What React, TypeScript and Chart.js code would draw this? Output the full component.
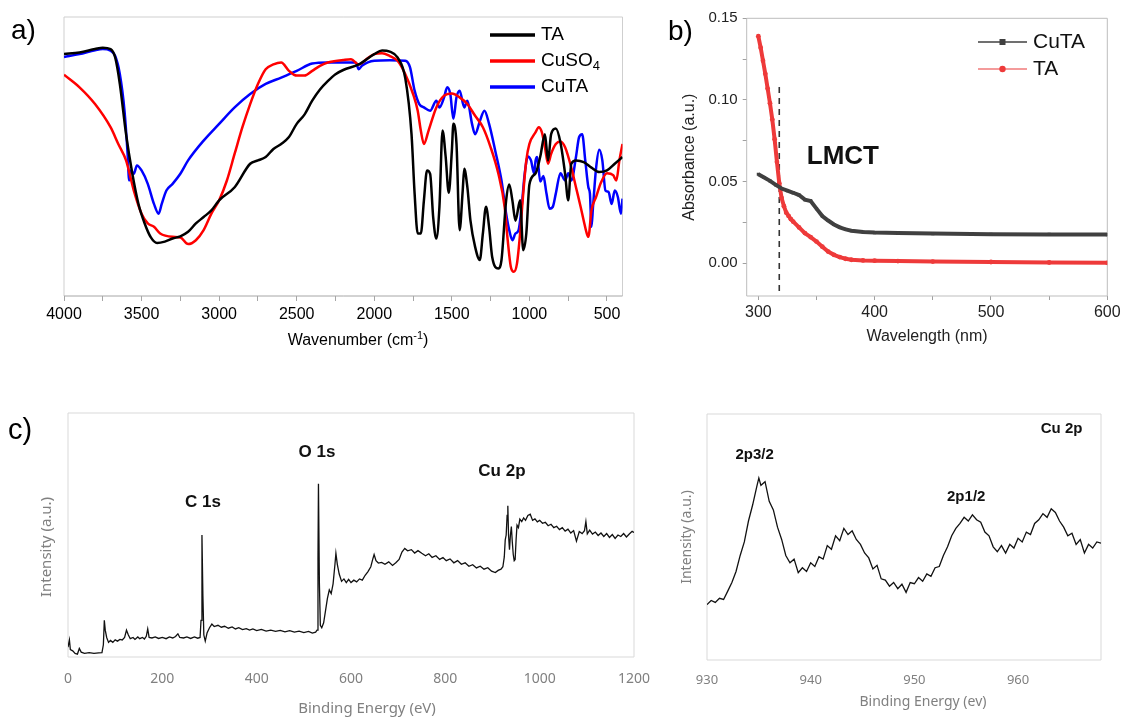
import React, { useEffect, useRef } from 'react';
import { Chart, registerables } from 'chart.js';
Chart.register(...registerables);

// ---------- a) FTIR ----------
const taWn = [4000, 3900, 3800, 3750, 3700, 3670, 3640, 3600, 3560, 3520, 3480, 3440, 3400, 3350, 3300, 3250, 3200, 3150, 3100, 3050, 3000, 2900, 2800, 2750, 2700, 2650, 2600, 2550, 2500, 2450, 2400, 2350, 2300, 2250, 2200, 2100, 2000, 1950, 1900, 1850, 1800, 1760, 1740, 1720, 1700, 1680, 1660, 1640, 1620, 1600, 1580, 1560, 1540, 1520, 1500, 1490, 1470, 1450, 1430, 1420, 1400, 1380, 1350, 1320, 1300, 1280, 1260, 1240, 1200, 1180, 1150, 1130, 1110, 1090, 1060, 1040, 1020, 1000, 960, 930, 900, 880, 860, 830, 800, 770, 750, 730, 700, 650, 600, 550, 500, 450, 400];
const taT = [86.7, 87.3, 88.5, 89, 88.5, 85.5, 76, 58, 44, 33, 26, 21, 19, 19.5, 20.6, 21.4, 23, 26, 28.3, 30.7, 34.3, 39, 47.4, 48.6, 49.8, 52.7, 54.5, 57, 61.7, 65, 70, 74, 77, 79.5, 81, 83, 86.7, 88, 87.6, 85.5, 78, 58, 36.7, 22.4, 22.4, 34.3, 45, 43.8, 28, 20.6, 32, 59.3, 50, 37, 52, 61.7, 54.5, 23.6, 37.8, 45.6, 39, 27, 17.6, 12.9, 22.4, 32, 24.8, 14, 9.9, 12.9, 34.3, 40, 34.3, 27, 34.3, 16.4, 22.4, 40, 44, 50, 58, 48.6, 58, 60, 55, 43.8, 34.3, 47.4, 48.6, 48, 46, 44.4, 45, 47.4, 49.8];

const cuso4Wn = [4000, 3900, 3800, 3700, 3650, 3600, 3550, 3500, 3460, 3420, 3380, 3300, 3250, 3200, 3150, 3100, 3050, 3000, 2950, 2900, 2850, 2800, 2750, 2700, 2650, 2600, 2550, 2500, 2450, 2400, 2350, 2300, 2200, 2150, 2100, 2050, 2000, 1950, 1900, 1850, 1800, 1750, 1720, 1700, 1680, 1650, 1600, 1550, 1500, 1450, 1400, 1350, 1300, 1250, 1200, 1160, 1140, 1120, 1100, 1080, 1060, 1040, 1020, 1000, 960, 940, 920, 900, 880, 860, 830, 800, 770, 730, 700, 670, 650, 630, 620, 600, 570, 540, 500, 460, 440, 420, 400];
const cuso4T = [79.3, 74.8, 68.8, 60.5, 54.5, 48.6, 37.8, 29.5, 26, 24.8, 22.4, 21.2, 21, 18.6, 20, 23.6, 29.5, 34.3, 41.4, 51, 60.5, 68.8, 76, 81.3, 83, 83.7, 80.7, 79, 79, 80.7, 82.5, 83.7, 84.6, 84.9, 83, 84.9, 86.7, 87, 86, 84.3, 79.5, 72.4, 66.4, 59.3, 54.5, 59.3, 67.6, 71.8, 72.6, 71.2, 68.8, 64.6, 60.5, 53.3, 43.8, 32, 20, 10.5, 8.7, 11.7, 22.4, 36.7, 48.6, 54.5, 58.7, 60.5, 58.7, 53.3, 47.4, 51, 54.5, 55.4, 53.3, 46, 39, 32, 27, 22.4, 21.2, 30.7, 35.5, 40.5, 44, 43.3, 41.4, 48.6, 54.5];

const cutaWn = [4000, 3900, 3800, 3750, 3700, 3670, 3640, 3610, 3590, 3580, 3570, 3550, 3530, 3500, 3460, 3420, 3390, 3370, 3340, 3300, 3250, 3200, 3100, 3000, 2900, 2800, 2700, 2600, 2500, 2400, 2300, 2200, 2120, 2100, 2080, 2000, 1900, 1800, 1770, 1740, 1710, 1680, 1640, 1600, 1580, 1550, 1530, 1510, 1490, 1470, 1450, 1420, 1400, 1370, 1350, 1320, 1290, 1260, 1220, 1180, 1150, 1130, 1110, 1090, 1070, 1050, 1030, 1010, 990, 970, 960, 950, 930, 910, 890, 870, 850, 830, 800, 770, 750, 730, 700, 680, 660, 640, 620, 610, 600, 590, 570, 550, 530, 510, 490, 470, 450, 430, 410, 400];
const cutaT = [85.7, 86.7, 88.1, 88.5, 87.9, 86, 79.5, 66.4, 51, 41.4, 45, 43.8, 46.8, 45, 40.2, 33, 29.5, 33, 37.8, 40.2, 43.8, 48.6, 55.7, 61.7, 67.6, 72.4, 76, 78.3, 80.7, 83.3, 83.7, 83.7, 83.7, 81.3, 82.5, 84.3, 84.5, 84.3, 82, 73.6, 68.8, 67.6, 66.4, 70, 67.6, 71.2, 74.8, 72.4, 63.5, 71.2, 73.6, 67.6, 70, 61.7, 58, 62.6, 66.4, 61.7, 52, 41.4, 29.5, 23.6, 20, 22.4, 23.6, 32, 44, 50, 48.6, 44, 48.6, 49.8, 41, 43, 36.7, 31.3, 31.9, 36.7, 44, 41.4, 44, 41.4, 49.8, 56.9, 58, 48.6, 39, 36.7, 24.8, 32, 46, 52.4, 48.6, 37.8, 37.3, 33, 37.8, 35.5, 29.5, 34.9];

// ---------- b) UV-vis ----------
const uvCuTAnm = [300, 305, 310, 315, 320, 325, 330, 335, 340, 345, 350, 355, 360, 365, 370, 375, 380, 390, 400, 420, 450, 500, 550, 600];
const uvCuTAabs = [0.0545, 0.0525, 0.0505, 0.048, 0.0458, 0.0445, 0.0432, 0.0418, 0.039, 0.0382, 0.0335, 0.029, 0.0262, 0.0238, 0.022, 0.0208, 0.02, 0.0192, 0.0188, 0.0185, 0.0182, 0.0178, 0.0177, 0.0176];
const uvTAnm = [300, 302, 304, 306, 308, 310, 312, 314, 316, 318, 320, 322, 324, 326, 328, 330, 335, 340, 345, 350, 355, 360, 365, 370, 375, 380, 390, 400, 420, 450, 500, 550, 600];
const uvTAabs = [0.139, 0.132, 0.124, 0.116, 0.107, 0.098, 0.088, 0.076, 0.062, 0.049, 0.04, 0.035, 0.031, 0.029, 0.027, 0.0255, 0.022, 0.0185, 0.016, 0.0133, 0.0102, 0.0072, 0.0052, 0.0038, 0.0028, 0.0022, 0.0018, 0.0016, 0.0014, 0.0011, 0.0008, 0.0005, 0.0003];
const lmctNm = [318, 318];
const lmctAbs = [0.108, -0.02];

// ---------- c) XPS survey ----------
const surveyE = [0, 3, 5, 10, 15, 20, 24, 28, 35, 45, 55, 65, 72, 75, 77, 79, 82, 86, 90, 95, 100, 105, 110, 115, 120, 124, 128, 132, 138, 142, 148, 152, 158, 162, 166, 169, 172, 178, 185, 192, 200, 208, 215, 222, 228, 233, 237, 245, 252, 260, 268, 275, 280, 282, 284, 286, 288, 291, 295, 300, 305, 310, 318, 325, 332, 340, 348, 355, 362, 370, 378, 385, 392, 400, 410, 420, 430, 440, 450, 460, 470, 480, 490, 500, 510, 518, 525, 528, 530, 531, 533, 535, 538, 542, 546, 550, 554, 558, 562, 566, 568, 571, 575, 580, 585, 590, 595, 600, 606, 612, 618, 624, 630, 636, 642, 646, 649, 653, 658, 665, 672, 680, 688, 695, 702, 708, 714, 720, 728, 735, 742, 750, 758, 765, 772, 780, 788, 795, 802, 810, 818, 826, 834, 842, 850, 858, 866, 874, 882, 890, 898, 906, 912, 918, 922, 925, 927, 929, 931, 932.5, 934, 936, 938, 940, 942, 944, 946, 948, 950, 952, 955, 958, 962, 966, 970, 975, 980, 985, 990, 995, 1000, 1006, 1012, 1018, 1024, 1030, 1036, 1042, 1048, 1054, 1060, 1066, 1072, 1078, 1084, 1090, 1095, 1098, 1101, 1106, 1112, 1118, 1124, 1130, 1136, 1142, 1148, 1154, 1160, 1166, 1172, 1178, 1184, 1190, 1196, 1200];
const surveyI = [4, 7, 3, 2.5, 1.5, 1.2, 3.5, 2, 1.5, 1.8, 1.5, 1.7, 1.8, 5, 15, 11, 8, 6, 6.8, 6, 7, 6.5, 7.2, 7, 8, 11, 9, 7.5, 8, 7.2, 8.2, 7.5, 8, 7.4, 8.5, 11.5, 8, 7.8, 8.2, 7.6, 8, 7.5, 8.2, 7.8, 8.4, 9.5, 8, 7.8, 8.2, 7.6, 8.2, 7.7, 8, 15, 50, 25, 9, 6.5, 10, 12, 13.5, 12.5, 13, 12.2, 12.6, 11.8, 12.3, 11.5, 12, 11.2, 11.6, 11, 11.5, 10.8, 11.3, 10.6, 11, 10.5, 10.9, 10.3, 10.8, 10.2, 10.6, 10, 10.5, 9.8, 10.2, 11, 40, 71, 30, 13, 12, 14, 19, 24, 27.5, 26, 30, 38, 42.5, 38, 34, 31, 32, 30.5, 31.8, 30.5, 31.5, 30.8, 32, 31.5, 33.5, 35, 37, 40, 42, 39.5, 38.5, 38.8, 38, 39, 37.5, 38.6, 40, 43, 44.5, 43.5, 44, 42.6, 43.6, 42.5, 41.5, 42.3, 40.8, 41.5, 40, 40.8, 39.5, 40.2, 38.6, 39.5, 38, 38.6, 37.2, 37.8, 36.5, 37.2, 36, 36.6, 35.2, 34.6, 35.5, 36, 37, 41, 48, 50, 58, 62, 50, 44, 50, 53.5, 47, 42, 39.5, 40, 48, 54, 53, 56.5, 55.5, 57, 56, 58, 58.5, 56, 56.6, 55.4, 56, 54.8, 55.2, 53.8, 54.4, 53, 53.6, 52.2, 53, 51.6, 52.4, 50.8, 51.8, 47.5, 51.4, 50.6, 51.8, 55.5, 50.5, 52, 50.4, 51.2, 49.8, 50.8, 49.4, 50.6, 49, 50.2, 48.6, 50, 49.4, 50.6, 49.2, 50.4, 51.5, 51];

// ---------- d) XPS Cu 2p ----------
const cu2pE = [930.0, 930.4, 930.8, 931.2, 931.6, 932.0, 932.4, 932.8, 933.2, 933.6, 934.0, 934.4, 934.8, 935.0, 935.2, 935.6, 936.0, 936.4, 936.8, 937.2, 937.6, 938.0, 938.4, 938.8, 939.2, 939.6, 940.0, 940.4, 940.8, 941.2, 941.6, 942.0, 942.4, 942.8, 943.2, 943.6, 944.0, 944.4, 944.8, 945.2, 945.6, 946.0, 946.4, 946.8, 947.2, 947.6, 948.0, 948.4, 948.8, 949.2, 949.6, 950.0, 950.4, 950.8, 951.2, 951.6, 952.0, 952.4, 952.8, 953.2, 953.6, 954.0, 954.4, 954.8, 955.2, 955.6, 956.0, 956.4, 956.8, 957.2, 957.6, 958.0, 958.4, 958.8, 959.2, 959.6, 960.0, 960.4, 960.8, 961.2, 961.6, 962.0, 962.4, 962.8, 963.2, 963.6, 964.0, 964.4, 964.8, 965.2, 965.6, 966.0, 966.4, 966.8, 967.2, 967.6, 968.0];
const cu2pI = [22.5, 24.2, 23.4, 25.1, 24.6, 28.0, 31.5, 36.0, 42.5, 48.0, 56.5, 63.0, 70.5, 74.0, 71.0, 72.5, 64.5, 61.0, 54.0, 49.0, 42.5, 39.5, 41.0, 35.5, 37.5, 36.0, 39.5, 38.0, 42.0, 41.0, 46.5, 45.0, 50.5, 48.5, 53.5, 51.0, 52.5, 49.0, 47.0, 43.5, 41.5, 37.0, 38.5, 33.0, 32.5, 30.0, 31.5, 29.0, 30.8, 27.5, 31.5, 31.0, 33.5, 32.0, 35.0, 34.0, 37.5, 38.0, 42.5, 46.0, 50.5, 53.5, 55.5, 58.0, 56.5, 59.0, 57.0, 56.0, 52.0, 50.5, 46.0, 44.0, 46.5, 43.5, 47.0, 45.5, 49.5, 48.0, 52.0, 51.0, 55.5, 57.0, 59.5, 58.0, 61.5, 60.0, 56.5, 54.0, 50.5, 51.5, 47.0, 49.0, 43.5, 47.0, 45.5, 48.0, 47.5];

// ---------- helpers ----------
const SANS = '"Liberation Sans", Arial, sans-serif';
const NOTO = '"Noto Sans", sans-serif';

type Part = { t: string; sup?: boolean; sub?: boolean };
type TextItem = {
  x?: number; y?: number; dx?: number; dy?: number;
  parts: Part[]; size: number; family: string; weight?: string;
  color?: string; rotate?: number; align?: 'center' | 'left';
};

const zip = (xs: number[], ys: number[]) => xs.map((x, i) => ({ x, y: ys[i] }));

function labelParts(label: string): Part[] {
  const m = label.match(/^(.*?[A-Za-z])(\d+)$/);
  return m ? [{ t: m[1] }, { t: m[2], sub: true }] : [{ t: label }];
}

function drawParts(ctx: CanvasRenderingContext2D, it: TextItem, x: number, y: number) {
  const fontFor = (p: Part) => `${it.weight || 'normal'} ${p.sup || p.sub ? it.size * 0.68 : it.size}px ${it.family}`;
  const widths = it.parts.map((p) => { ctx.font = fontFor(p); return ctx.measureText(p.t).width; });
  const total = widths.reduce((a, b) => a + b, 0);
  ctx.save();
  ctx.translate(x, y);
  if (it.rotate) ctx.rotate(it.rotate);
  ctx.fillStyle = it.color || '#000';
  ctx.textBaseline = 'middle';
  ctx.textAlign = 'left';
  let cx = it.align === 'left' ? 0 : -total / 2;
  it.parts.forEach((p, i) => {
    ctx.font = fontFor(p);
    const oy = p.sup ? -it.size * 0.33 : p.sub ? it.size * 0.28 : 0;
    ctx.fillText(p.t, cx, oy);
    cx += widths[i];
  });
  ctx.restore();
}

function textPlugin(items: TextItem[]) {
  return {
    id: 'texts',
    afterDraw(chart: any) {
      const ctx = chart.ctx;
      items.forEach((it) => {
        let x = it.x as number, y = it.y as number;
        if (it.dx !== undefined) {
          x = chart.scales.x.getPixelForValue(it.dx);
          y = chart.scales.y.getPixelForValue(it.dy);
        }
        drawParts(ctx, it, x, y);
      });
    },
  };
}

function boxPlugin(color: string, bottomColor?: string) {
  return {
    id: 'box',
    beforeDatasetsDraw(chart: any) {
      const { ctx, chartArea: a } = chart;
      ctx.save();
      ctx.lineWidth = 1;
      ctx.strokeStyle = color;
      ctx.beginPath();
      ctx.moveTo(a.left, a.bottom); ctx.lineTo(a.left, a.top); ctx.lineTo(a.right, a.top); ctx.lineTo(a.right, a.bottom);
      ctx.stroke();
      ctx.strokeStyle = bottomColor || color;
      ctx.beginPath();
      ctx.moveTo(a.left, a.bottom); ctx.lineTo(a.right, a.bottom);
      ctx.stroke();
      ctx.restore();
    },
  };
}

function legendPlugin(cfg: { x1: number; x2: number; tx: number; ys: number[]; size: number; lineWidth: number; color: string; markers?: boolean; count: number }) {
  return {
    id: 'customLegend',
    afterDraw(chart: any) {
      const ctx = chart.ctx;
      chart.data.datasets.slice(0, cfg.count).forEach((ds: any, i: number) => {
        const y = cfg.ys[i];
        ctx.save();
        ctx.strokeStyle = ds.legendColor || ds.borderColor;
        ctx.lineWidth = cfg.lineWidth;
        ctx.beginPath(); ctx.moveTo(cfg.x1, y); ctx.lineTo(cfg.x2, y); ctx.stroke();
        if (cfg.markers) {
          const mx = (cfg.x1 + cfg.x2) / 2;
          ctx.fillStyle = ds.borderColor;
          if (ds.pointStyle === 'rect') ctx.fillRect(mx - 3, y - 3, 6, 6);
          else { ctx.beginPath(); ctx.arc(mx, y, 3.2, 0, Math.PI * 2); ctx.fill(); }
        }
        ctx.restore();
        drawParts(ctx, { parts: labelParts(ds.label), size: cfg.size, family: SANS, color: cfg.color, align: 'left' }, cfg.tx, y);
      });
    },
  };
}

const baseOpts = {
  responsive: false,
  animation: false as const,
  events: [] as any[],
  plugins: { legend: { display: false }, tooltip: { enabled: false } },
};

const fixX = (h: number) => (s: any) => { s.height = h; s.paddingLeft = 0; s.paddingRight = 0; };

function ChartCanvas({ left, top, width, height, make }: { left: number; top: number; width: number; height: number; make: () => any }) {
  const ref = useRef<HTMLCanvasElement>(null);
  useEffect(() => {
    const chart = new Chart(ref.current as HTMLCanvasElement, make());
    return () => chart.destroy();
  }, []);
  return <canvas ref={ref} width={width} height={height} style={{ position: 'absolute', left, top, width, height }} />;
}

// ---------- panel configs ----------
function makeA() {
  return {
    type: 'line',
    data: {
      datasets: [
        { label: 'TA', data: zip(taWn, taT), borderColor: '#000000' },
        { label: 'CuSO4', data: zip(cuso4Wn, cuso4T), borderColor: '#ff0000' },
        { label: 'CuTA', data: zip(cutaWn, cutaT), borderColor: '#0000ff' },
      ].map((d) => ({ ...d, borderWidth: 2.5, pointRadius: 0, cubicInterpolationMode: 'monotone', fill: false })),
    },
    options: {
      ...baseOpts,
      layout: { padding: { left: 64, top: 17, right: 17.5, bottom: 34 } },
      scales: {
        x: {
          type: 'linear', reverse: true, min: 400, max: 4000,
          afterFit: fixX(30),
          border: { display: false },
          grid: { drawOnChartArea: false, drawTicks: true, tickLength: 5, tickColor: '#a6a6a6' },
          ticks: {
            stepSize: 250, includeBounds: false, autoSkip: false, maxTicksLimit: 100, maxRotation: 0, padding: 4,
            color: '#000', font: { family: SANS, size: 16 },
            callback: (v: number) => (v % 500 === 0 ? String(v) : ''),
          },
        },
        y: { display: false, min: 0, max: 100 },
      },
    },
    plugins: [
      boxPlugin('#cfcfcf', '#a6a6a6'),
      legendPlugin({ x1: 490, x2: 535, tx: 541, ys: [35, 61, 87], size: 19, lineWidth: 3.5, color: '#000', count: 3 }),
      textPlugin([
        { x: 11, y: 31, parts: [{ t: 'a)' }], size: 28, family: SANS, align: 'left' },
        { x: 358, y: 341, parts: [{ t: 'Wavenumber (cm' }, { t: '-1', sup: true }, { t: ')' }], size: 16, family: SANS },
      ]),
    ],
  };
}

function makeB() {
  return {
    type: 'line',
    data: {
      datasets: [
        { label: 'CuTA', data: zip(uvCuTAnm, uvCuTAabs), borderColor: '#404040', backgroundColor: '#404040', legendColor: '#404040', pointStyle: 'rect', pointRadius: 2.2, borderWidth: 4 },
        { label: 'TA', data: zip(uvTAnm, uvTAabs), borderColor: '#ee3a3a', backgroundColor: '#ee3a3a', legendColor: '#f07a7a', pointStyle: 'circle', pointRadius: 2.4, borderWidth: 4 },
        { label: '', data: zip(lmctNm, lmctAbs), borderColor: '#333333', borderWidth: 1.6, borderDash: [6, 5], pointRadius: 0 },
      ].map((d) => ({ ...d, pointBorderWidth: 0, fill: false })),
    },
    options: {
      ...baseOpts,
      layout: { padding: { left: 40, top: 18.3, right: 14.7, bottom: 14 } },
      scales: {
        x: {
          type: 'linear', min: 290, max: 600,
          afterFit: fixX(50),
          border: { display: false },
          grid: { drawOnChartArea: false, tickLength: 4, tickColor: '#a0a0a0' },
          ticks: {
            stepSize: 50, includeBounds: false, autoSkip: false, maxRotation: 0, padding: 3,
            color: '#222', font: { family: SANS, size: 16 },
            callback: (v: number) => (v % 100 === 0 ? String(v) : ''),
          },
          title: { display: true, text: 'Wavelength (nm)', color: '#222', font: { family: SANS, size: 16 }, padding: { top: 0, bottom: 0 } },
        },
        y: {
          min: -0.02, max: 0.15,
          afterFit: (s: any) => { s.width = 66.7; },
          border: { display: false },
          grid: { drawOnChartArea: false, tickLength: 4, tickColor: '#a0a0a0' },
          ticks: {
            stepSize: 0.025, includeBounds: false, autoSkip: false, padding: 5,
            color: '#222', font: { family: SANS, size: 15 },
            callback: (v: number) => (Math.abs(v * 20 - Math.round(v * 20)) < 1e-6 ? v.toFixed(2) : ''),
          },
          title: { display: true, text: 'Absorbance (a.u.)', color: '#222', font: { family: SANS, size: 16 }, padding: { top: 0, bottom: 0 } },
        },
      },
    },
    plugins: [
      boxPlugin('#bdbdbd'),
      legendPlugin({ x1: 338, x2: 387, tx: 393, ys: [42, 69], size: 21, lineWidth: 1.6, color: '#111', markers: true, count: 2 }),
      textPlugin([
        { x: 28, y: 32, parts: [{ t: 'b)' }], size: 28, family: SANS, align: 'left' },
        { dx: 372.7, dy: 0.065, parts: [{ t: 'LMCT' }], size: 26, family: SANS, weight: 'bold', color: '#111' },
      ]),
    ],
  };
}

function makeC() {
  return {
    type: 'line',
    data: {
      datasets: [{ label: 'Survey', data: zip(surveyE, surveyI), borderColor: '#111', borderWidth: 1.3, pointRadius: 0, tension: 0, fill: false }],
    },
    options: {
      ...baseOpts,
      layout: { padding: { left: 68, top: 33, right: 16, bottom: 20 } },
      scales: {
        x: {
          type: 'linear', min: 0, max: 1200,
          afterFit: fixX(40),
          border: { display: false },
          grid: { display: false },
          ticks: {
            stepSize: 200, autoSkip: false, maxRotation: 0, padding: 6, color: '#808080', font: { family: NOTO, size: 14 },
            callback: (v: number) => String(v),
          },
        },
        y: { display: false, min: 0, max: 100 },
      },
    },
    plugins: [
      boxPlugin('#d9d9d9'),
      textPlugin([
        { x: 8, y: 51, parts: [{ t: 'c)' }], size: 29, family: SANS, align: 'left' },
        { x: 47, y: 167, rotate: -Math.PI / 2, parts: [{ t: 'Intensity (a.u.)' }], size: 15, family: NOTO, color: '#808080' },
        { x: 367, y: 329, parts: [{ t: 'Binding Energy (eV)' }], size: 15, family: NOTO, color: '#808080' },
        { dx: 286, dy: 63.5, parts: [{ t: 'C 1s' }], size: 17, family: SANS, weight: 'bold', color: '#111' },
        { dx: 528, dy: 84, parts: [{ t: 'O 1s' }], size: 17, family: SANS, weight: 'bold', color: '#111' },
        { dx: 920, dy: 76.2, parts: [{ t: 'Cu 2p' }], size: 17, family: SANS, weight: 'bold', color: '#111' },
      ]),
    ],
  };
}

function makeD() {
  return {
    type: 'line',
    data: {
      datasets: [{ label: 'Cu 2p', data: zip(cu2pE, cu2pI), borderColor: '#111', borderWidth: 1.3, pointRadius: 0, tension: 0, fill: false }],
    },
    options: {
      ...baseOpts,
      layout: { padding: { left: 57, top: 34, right: 21, bottom: 17 } },
      scales: {
        x: {
          type: 'linear', min: 930, max: 968,
          afterFit: fixX(40),
          border: { display: false },
          grid: { display: false },
          ticks: {
            stepSize: 10, includeBounds: false, autoSkip: false, maxRotation: 0, padding: 4.5, color: '#808080', font: { family: NOTO, size: 13 },
            callback: (v: number) => String(v),
          },
        },
        y: { display: false, min: 0, max: 100 },
      },
    },
    plugins: [
      boxPlugin('#d9d9d9'),
      textPlugin([
        { x: 37, y: 157, rotate: -Math.PI / 2, parts: [{ t: 'Intensity (a.u.)' }], size: 14, family: NOTO, color: '#808080' },
        { x: 273, y: 322, parts: [{ t: 'Binding Energy (ev)' }], size: 14, family: NOTO, color: '#808080' },
        { dx: 964.2, dy: 93.9, parts: [{ t: 'Cu 2p' }], size: 15, family: SANS, weight: 'bold', color: '#111' },
        { dx: 934.6, dy: 83.3, parts: [{ t: '2p3/2' }], size: 15, family: SANS, weight: 'bold', color: '#111' },
        { dx: 955, dy: 66.3, parts: [{ t: '2p1/2' }], size: 15, family: SANS, weight: 'bold', color: '#111' },
      ]),
    ],
  };
}

export default function App() {
  return (
    <div style={{ position: 'absolute', left: 0, top: 0, width: 1122, height: 717, background: '#fff', overflow: 'hidden' }}>
      <ChartCanvas left={0} top={0} width={640} height={360} make={makeA} />
      <ChartCanvas left={640} top={0} width={482} height={360} make={makeB} />
      <ChartCanvas left={0} top={380} width={650} height={337} make={makeC} />
      <ChartCanvas left={650} top={380} width={472} height={337} make={makeD} />
    </div>
  );
}
